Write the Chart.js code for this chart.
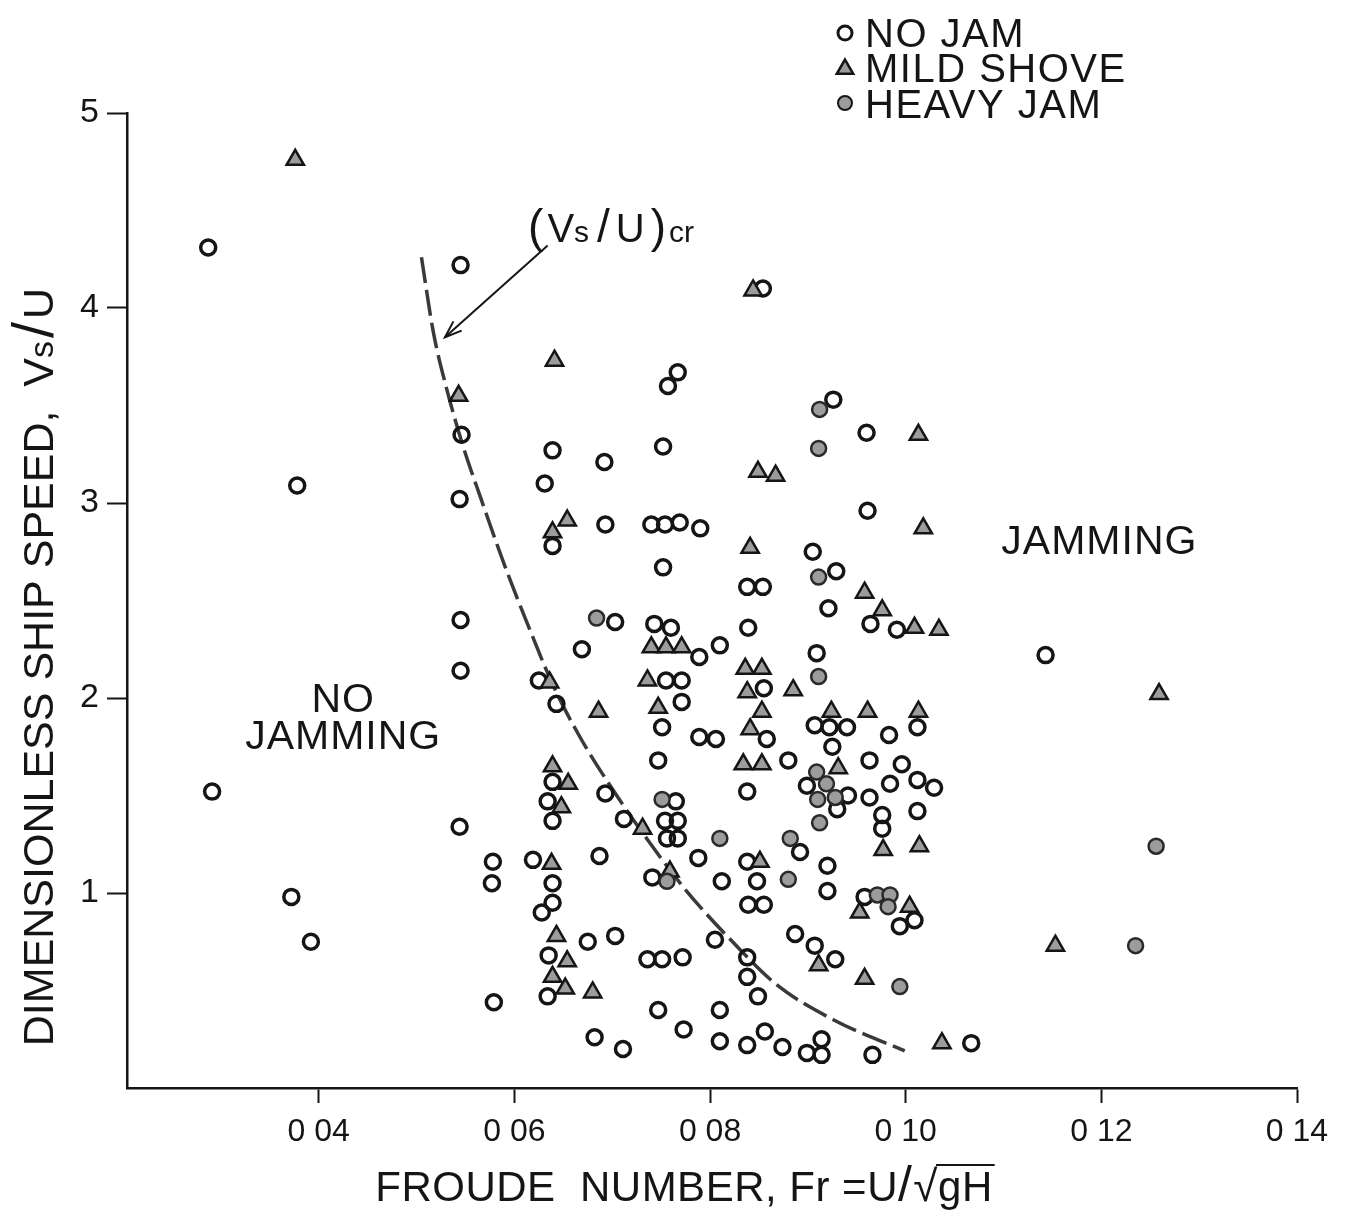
<!DOCTYPE html>
<html>
<head>
<meta charset="utf-8">
<title>Dimensionless ship speed vs Froude number</title>
<script src="https://cdn.jsdelivr.net/npm/chart.js@4.4.1/dist/chart.umd.min.js"></script>
<style>
  html, body { margin: 0; padding: 0; background: #fff; }
  #wrap { width: 1348px; height: 1212px; }
</style>
</head>
<body>
<div id="wrap"><canvas id="chart" width="1348" height="1212"></canvas></div>
<script>
// axis ticks
const frTicks = [0.04, 0.06, 0.08, 0.10, 0.12, 0.14];
const vsTicks = [1, 2, 3, 4, 5];

// NO JAM (open circles)
const noJamFr = [
    0.0287, 0.0378, 0.0291, 0.0372, 0.0392, 0.0545, 0.0546, 0.0544, 0.0545, 0.0545,
    0.0544, 0.0578, 0.0577, 0.0579, 0.0639, 0.0631, 0.0639, 0.0692, 0.0752, 0.0767,
    0.0757, 0.0854, 0.0926, 0.0960, 0.0961, 0.0693, 0.0740, 0.0754, 0.0769, 0.0790,
    0.0752, 0.0905, 0.0929, 0.0838, 0.0854, 0.0921, 0.0964, 0.0991, 0.0703, 0.0743,
    0.0760, 0.0839, 0.0669, 0.0789, 0.0810, 0.0909, 0.0755, 0.0771, 0.0855, 0.0625,
    0.0643, 0.0771, 0.0751, 0.0789, 0.0806, 0.0858, 0.0747, 0.0880, 0.0838, 0.0907,
    0.0922, 0.0940, 0.0925, 0.0983, 0.1012, 0.0899, 0.0941, 0.0930, 0.0963, 0.0996,
    0.0984, 0.1012, 0.1029, 0.0963, 0.0976, 0.0976, 0.1012, 0.0639, 0.0634, 0.0639,
    0.0693, 0.0712, 0.0765, 0.0754, 0.0767, 0.0756, 0.0767, 0.0741, 0.0788, 0.0892,
    0.0838, 0.0812, 0.0848, 0.0920, 0.0920, 0.0839, 0.0855, 0.0619, 0.0639, 0.0639,
    0.0628, 0.0687, 0.0958, 0.0994, 0.1009, 0.0887, 0.0907, 0.0928, 0.0805, 0.0838,
    0.0838, 0.0849, 0.0675, 0.0703, 0.0635, 0.0634, 0.0736, 0.0751, 0.0772, 0.0747,
    0.0810, 0.0682, 0.0711, 0.0773, 0.0810, 0.0838, 0.0856, 0.0874, 0.0899, 0.0914,
    0.0914, 0.0966, 0.1067, 0.1143
];
const noJamVs = [
    4.31, 3.09, 1.52, 0.98, 0.75, 4.22, 3.35, 3.02, 2.40, 2.14,
    1.34, 1.16, 1.05, 0.44, 3.27, 3.10, 2.78, 3.21, 3.29, 3.67,
    3.60, 4.10, 3.53, 3.36, 2.96, 2.89, 2.89, 2.89, 2.90, 2.87,
    2.67, 2.75, 2.65, 2.57, 2.57, 2.46, 2.38, 2.35, 2.39, 2.38,
    2.36, 2.36, 2.25, 2.21, 2.27, 2.23, 2.09, 2.09, 2.05, 2.09,
    1.97, 1.98, 1.85, 1.80, 1.79, 1.79, 1.68, 1.68, 1.52, 1.86,
    1.85, 1.85, 1.75, 1.81, 1.85, 1.55, 1.50, 1.43, 1.68, 1.66,
    1.56, 1.58, 1.54, 1.49, 1.40, 1.33, 1.42, 1.57, 1.47, 1.37,
    1.51, 1.38, 1.47, 1.37, 1.37, 1.28, 1.28, 1.08, 1.18, 1.21,
    1.16, 1.06, 1.06, 1.14, 1.01, 0.94, 0.94, 1.17, 1.05, 0.95,
    0.90, 1.19, 0.98, 0.83, 0.86, 0.79, 0.73, 0.66, 0.76, 0.67,
    0.57, 0.47, 0.75, 0.78, 0.68, 0.47, 0.66, 0.66, 0.67, 0.40,
    0.40, 0.26, 0.20, 0.30, 0.24, 0.22, 0.29, 0.21, 0.18, 0.25,
    0.17, 0.17, 0.23, 2.22
];

// MILD SHOVE (triangles)
const mildFr = [
    0.0376, 0.0543, 0.0641, 0.0654, 0.0639, 0.0844, 0.0849, 0.0867, 0.1013, 0.1018,
    0.0841, 0.0958, 0.0976, 0.1009, 0.1034, 0.0740, 0.0755, 0.0771, 0.0836, 0.0853,
    0.0736, 0.0838, 0.0885, 0.0636, 0.0686, 0.0747, 0.0853, 0.0841, 0.0834, 0.0853,
    0.0924, 0.0961, 0.1013, 0.0931, 0.0977, 0.1014, 0.0639, 0.0655, 0.0648, 0.0731,
    0.0759, 0.0851, 0.0638, 0.0953, 0.1004, 0.0911, 0.0958, 0.0643, 0.0654, 0.0639,
    0.0652, 0.0680, 0.1037, 0.1259, 0.1153
];
const mildVs = [
    4.76, 3.55, 3.73, 2.91, 2.85, 4.09, 3.16, 3.14, 3.35, 2.87,
    2.77, 2.54, 2.45, 2.36, 2.35, 2.26, 2.26, 2.26, 2.15, 2.15,
    2.09, 2.03, 2.04, 2.08, 1.93, 1.95, 1.93, 1.84, 1.66, 1.66,
    1.93, 1.93, 1.93, 1.64, 1.22, 1.24, 1.65, 1.56, 1.44, 1.33,
    1.11, 1.16, 1.15, 0.90, 0.93, 0.63, 0.56, 0.78, 0.65, 0.57,
    0.51, 0.49, 0.23, 2.02, 0.73
];

// HEAVY JAM (shaded circles)
const heavyFr = [
    0.0912, 0.0911, 0.0911, 0.0684, 0.0911, 0.0909, 0.0919, 0.0910, 0.0928, 0.0912,
    0.0751, 0.0810, 0.0882, 0.0756, 0.0880, 0.0971, 0.0984, 0.0982, 0.0994, 0.1256,
    0.1235
];
const heavyVs = [
    3.48, 3.28, 2.62, 2.41, 2.11, 1.62, 1.56, 1.48, 1.49, 1.36,
    1.48, 1.28, 1.28, 1.06, 1.07, 0.99, 0.99, 0.93, 0.52, 1.24,
    0.73
];

// critical curve (Vs/U)cr
const critFr = [0.0505, 0.0517, 0.0530, 0.0547, 0.0566, 0.0590, 0.0615, 0.0640,
                0.0667, 0.0698, 0.0738, 0.0776, 0.0823, 0.0868, 0.0926, 0.0999];
const critVs = [4.26, 3.88, 3.60, 3.30, 3.02, 2.68, 2.36, 2.06,
                1.80, 1.55, 1.26, 1.01, 0.75, 0.53, 0.35, 0.19];

function pts(xs, ys) {
    return xs.map((x, i) => ({ x: x, y: ys[i] }));
}

const FONT = '"Liberation Sans", Arial, Helvetica, sans-serif';
const INK = '#151515';
const SHADE = '#9c9c9c';

function font(size, weight) {
    return (weight ? weight + ' ' : '') + size + 'px ' + FONT;
}

// draw a row of text pieces with different sizes (for subscripts etc.)
function drawRuns(ctx, runs, x, y, align, spacing) {
    ctx.letterSpacing = (spacing || 0) + 'px';
    let total = 0;
    runs.forEach(r => {
        ctx.font = font(r.size, r.weight);
        r.w = ctx.measureText(r.t).width;
        total += r.w + (r.gap || 0);
    });
    let cx = align === 'center' ? x - total / 2 : x;
    runs.forEach(r => {
        ctx.font = font(r.size, r.weight);
        ctx.fillText(r.t, cx, y + (r.dy || 0));
        if (r.over) {
            ctx.lineWidth = 2;
            ctx.beginPath();
            ctx.moveTo(cx - 2, y - r.size * 0.86);
            ctx.lineTo(cx + r.w + 2, y - r.size * 0.86);
            ctx.stroke();
        }
        cx += r.w + (r.gap || 0);
    });
    ctx.letterSpacing = '0px';
}

function markCircle(ctx, x, y, fill, lw) {
    ctx.beginPath();
    ctx.arc(x, y, 7, 0, Math.PI * 2);
    ctx.fillStyle = fill;
    ctx.fill();
    ctx.lineWidth = lw;
    ctx.strokeStyle = INK;
    ctx.stroke();
}

function markTriangle(ctx, x, y) {
    const r = 9.5;
    ctx.beginPath();
    for (let k = 0; k < 3; k++) {
        const a = -Math.PI / 2 + k * 2 * Math.PI / 3;
        const px = x + Math.cos(a) * r, py = y + Math.sin(a) * r;
        if (k === 0) ctx.moveTo(px, py); else ctx.lineTo(px, py);
    }
    ctx.closePath();
    ctx.fillStyle = SHADE;
    ctx.fill();
    ctx.lineWidth = 2.5;
    ctx.strokeStyle = INK;
    ctx.stroke();
}

// labels, arrow, legend and axis titles
const annotations = {
    id: 'annotations',
    afterDatasetsDraw(chart) {
        const ctx = chart.ctx;
        const xs = chart.scales.x, ys = chart.scales.y;
        const X = v => xs.getPixelForValue(v);
        const Y = v => ys.getPixelForValue(v);
        ctx.save();
        ctx.fillStyle = INK;
        ctx.strokeStyle = INK;
        ctx.textBaseline = 'alphabetic';
        ctx.textAlign = 'left';

        // region labels
        drawRuns(ctx, [{ t: 'NO', size: 41 }], X(0.0425), Y(1.93), 'center', 1);
        drawRuns(ctx, [{ t: 'JAMMING', size: 41 }], X(0.0425), Y(1.74), 'center', 1);
        drawRuns(ctx, [{ t: 'JAMMING', size: 41 }], X(0.1198), Y(2.74), 'center', 1);

        // curve label
        drawRuns(ctx, [
            { t: '(', size: 46, gap: 4 },
            { t: 'V', size: 40 },
            { t: 's', size: 30, gap: 8 },
            { t: '/', size: 46, gap: 6 },
            { t: 'U', size: 40, gap: 6 },
            { t: ')', size: 46, gap: 3 },
            { t: 'cr', size: 30 }
        ], X(0.0614), Y(4.34), 'left');

        // arrow to the curve
        const ax0 = X(0.0634), ay0 = Y(4.32), ax1 = X(0.0529), ay1 = Y(3.85);
        ctx.lineWidth = 2;
        ctx.beginPath();
        ctx.moveTo(ax0, ay0);
        ctx.lineTo(ax1, ay1);
        ctx.stroke();
        const ang = Math.atan2(ay1 - ay0, ax1 - ax0);
        ctx.beginPath();
        ctx.moveTo(ax1 - 18 * Math.cos(ang - 0.35), ay1 - 18 * Math.sin(ang - 0.35));
        ctx.lineTo(ax1, ay1);
        ctx.lineTo(ax1 - 18 * Math.cos(ang + 0.35), ay1 - 18 * Math.sin(ang + 0.35));
        ctx.stroke();

        // legend
        const lx = chart.chartArea.right - 452;
        const rows = [['NO JAM', 47], ['MILD SHOVE', 82], ['HEAVY JAM', 118]];
        markCircle(ctx, lx, 33, '#fff', 3);
        markTriangle(ctx, lx, 69);
        markCircle(ctx, lx, 103, SHADE, 2);
        ctx.fillStyle = INK;
        rows.forEach(r => drawRuns(ctx, [{ t: r[0], size: 40 }], lx + 20, r[1], 'left', 1.5));

        // x axis title
        drawRuns(ctx, [
            { t: 'FROUDE  NUMBER, Fr =U', size: 42 },
            { t: '/', size: 50, gap: 1 },
            { t: '\u221A', size: 44 },
            { t: 'gH', size: 42, over: true }
        ], 684, chart.height - 11, 'center', 0.5);

        // y axis title (rotated)
        ctx.translate(53, 667);
        ctx.rotate(-Math.PI / 2);
        drawRuns(ctx, [
            { t: 'DIMENSIONLESS SHIP SPEED,  V', size: 43 },
            { t: 's', size: 34, gap: 3 },
            { t: '/', size: 58, gap: 3 },
            { t: 'U', size: 43 }
        ], 0, 0, 'center');
        ctx.restore();
    }
};

new Chart(document.getElementById('chart'), {
    type: 'scatter',
    data: {
        datasets: [
            {
                label: '(Vs/U)cr',
                type: 'line',
                data: pts(critFr, critVs),
                borderColor: '#3a3a3a',
                borderWidth: 3.5,
                borderDash: [26, 7],
                pointRadius: 0,
                fill: false,
                cubicInterpolationMode: 'monotone',
                order: 3
            },
            {
                label: 'NO JAM',
                data: pts(noJamFr, noJamVs),
                pointStyle: 'circle',
                pointRadius: 7.5,
                backgroundColor: 'rgba(255,255,255,0)',
                borderColor: INK,
                borderWidth: 3.5,
                order: 2
            },
            {
                label: 'MILD SHOVE',
                data: pts(mildFr, mildVs),
                pointStyle: 'triangle',
                pointRadius: 10,
                backgroundColor: SHADE,
                borderColor: INK,
                borderWidth: 2.5,
                order: 1
            },
            {
                label: 'HEAVY JAM',
                data: pts(heavyFr, heavyVs),
                pointStyle: 'circle',
                pointRadius: 7.5,
                backgroundColor: SHADE,
                borderColor: '#2a2a2a',
                borderWidth: 2.5,
                order: 0
            }
        ]
    },
    options: {
        responsive: false,
        animation: false,
        devicePixelRatio: 1,
        layout: { padding: { top: 113, right: 51, left: 0, bottom: 0 } },
        plugins: {
            legend: { display: false },
            tooltip: { enabled: false }
        },
        scales: {
            x: {
                type: 'linear',
                min: 0.0204,
                max: 0.14,
                afterBuildTicks: function (scale) {
                    scale.ticks = frTicks.map(v => ({ value: v }));
                },
                afterFit: function (scale) {
                    scale.height = 124;
                },
                ticks: {
                    color: INK,
                    font: { family: FONT, size: 32 },
                    padding: 10,
                    maxRotation: 0,
                    autoSkip: false,
                    callback: function (value) {
                        return value.toFixed(2).replace('.', ' ');
                    }
                },
                grid: {
                    drawOnChartArea: false,
                    drawTicks: true,
                    tickLength: 15,
                    tickColor: INK,
                    tickWidth: 2
                },
                border: { display: true, color: INK, width: 2.5 },
                title: { display: false }
            },
            y: {
                type: 'linear',
                min: 0,
                max: 5,
                afterBuildTicks: function (scale) {
                    scale.ticks = vsTicks.map(v => ({ value: v }));
                },
                afterFit: function (scale) {
                    scale.width = 127;
                },
                ticks: {
                    color: INK,
                    font: { family: FONT, size: 34 },
                    padding: 8
                },
                grid: {
                    drawOnChartArea: false,
                    drawTicks: true,
                    tickLength: 20,
                    tickColor: INK,
                    tickWidth: 2
                },
                border: { display: true, color: INK, width: 2.5 },
                title: { display: false }
            }
        }
    },
    plugins: [annotations]
});
</script>
</body>
</html>
